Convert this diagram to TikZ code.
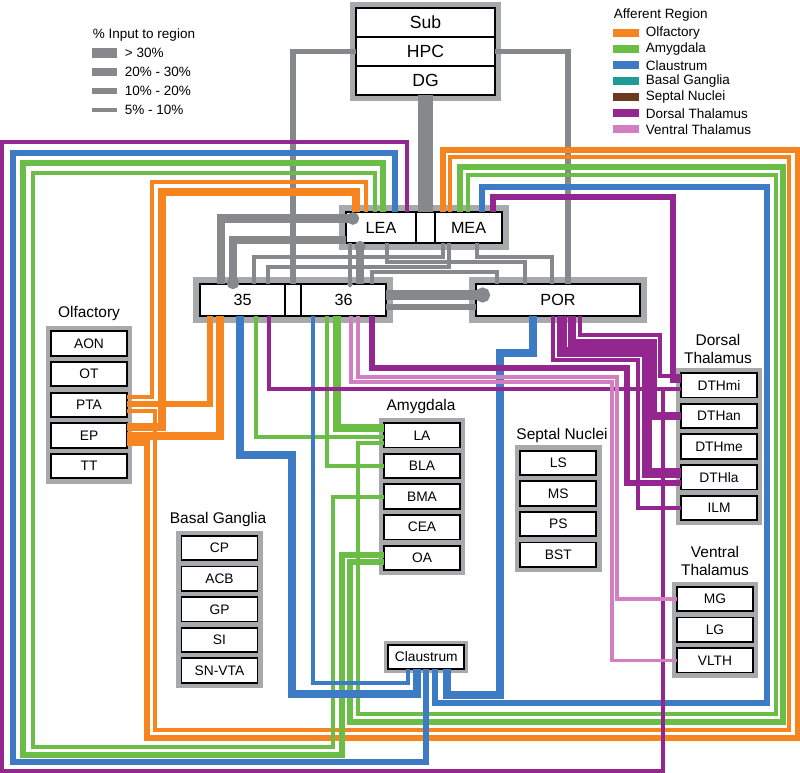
\documentclass[tikz,border=0pt]{standalone}
\usepackage{fontspec}
\setmainfont{Liberation Sans}
\usetikzlibrary{arrows.meta, positioning, fit, backgrounds, calc}
\definecolor{olfc}{HTML}{F7851F}
\definecolor{amyc}{HTML}{6ABD45}
\definecolor{clac}{HTML}{3D7BC4}
\definecolor{bgc}{HTML}{1C9C99}
\definecolor{sepc}{HTML}{6B3A1F}
\definecolor{dthc}{HTML}{93278F}
\definecolor{vthc}{HTML}{D17FC0}
\definecolor{hipc}{HTML}{86888B}
\definecolor{shadec}{HTML}{A7A9AC}
\tikzset{
    region/.style={rectangle, draw, line width=1.3pt, fill=white, minimum width=1.9cm, minimum height=0.61cm, inner sep=0pt, outer sep=0pt, font=\fontsize{9.8}{11}\selectfont},
    cortex/.style={rectangle, draw, line width=1.3pt, fill=white, minimum height=0.78cm, inner sep=0pt, outer sep=0pt, font=\fontsize{11.5}{13}\selectfont},
    hippo/.style={rectangle, draw, line width=1.3pt, fill=white, minimum width=3.475cm, minimum height=0.725cm, inner sep=0pt, outer sep=0pt, font=\fontsize{12.5}{14}\selectfont},
    shade/.style={fill=shadec, inner sep=0.13cm},
    cshade/.style={fill=shadec, inner sep=0.17cm},
    title/.style={font=\fontsize{11}{13}\selectfont, align=center},
    legtext/.style={anchor=west, font=\fontsize{9.6}{11}\selectfont},
    wa/.style={line width=2.4pt},
    wb/.style={line width=3.6pt},
    wc/.style={line width=5.2pt},
    wd/.style={line width=7pt},
    olf/.style={draw=olfc},
    amy/.style={draw=amyc},
    cla/.style={draw=clac},
    dth/.style={draw=dthc},
    vth/.style={draw=vthc},
    hip/.style={draw=hipc},
    dot/.style={-{Circle[length=0pt 1.5]}}
}
\begin{document}
\begin{tikzpicture}[x=0.025cm, y=-0.025cm, node distance=0.156cm]
    \useasboundingbox (0,0) rectangle (800,773);

    % Hippocampal formation (top)
    \node[hippo] at (425.5,22.5) (sub) {Sub};
    \node[hippo, below=0pt of sub] (hpc) {HPC};
    \node[hippo, below=0pt of hpc] (dg) {DG};

    % Entorhinal, perirhinal and postrhinal cortex
    \node[cortex, minimum width=1.75cm] at (381,227.5) (lea) {LEA};
    \node[cortex, minimum width=0.475cm, right=0pt of lea] (lmid) {};
    \node[cortex, minimum width=1.675cm, right=0pt of lmid] (mea) {MEA};
    \node[cortex, minimum width=2.125cm, minimum height=0.8cm] at (242.5,300) (a35) {35};
    \node[cortex, minimum width=0.4cm, minimum height=0.8cm, right=0pt of a35] (mid35) {};
    \node[cortex, minimum width=2.125cm, minimum height=0.8cm, right=0pt of mid35] (a36) {36};
    \node[cortex, minimum width=4.1cm, minimum height=0.8cm] at (558,300) (por) {POR};

    % Olfactory (left)
    \node[title] at (89,314) {Olfactory};
    \node[region] at (89,343.5) (aon) {AON};
    \node[region, below=of aon] (ot) {OT};
    \node[region, below=of ot] (pta) {PTA};
    \node[region, below=of pta] (ep) {EP};
    \node[region, below=of ep] (tt) {TT};

    % Basal ganglia
    \node[title] at (218,519) {Basal Ganglia};
    \node[region] at (219.5,548) (cp) {CP};
    \node[region, below=of cp] (acb) {ACB};
    \node[region, below=of acb] (gp) {GP};
    \node[region, below=of gp] (si) {SI};
    \node[region, below=of si] (snvta) {SN-VTA};

    % Amygdala
    \node[title] at (421,406) {Amygdala};
    \node[region] at (422,435.3) (la) {LA};
    \node[region, below=of la] (bla) {BLA};
    \node[region, below=of bla] (bma) {BMA};
    \node[region, below=of bma] (cea) {CEA};
    \node[region, below=of cea] (oa) {OA};

    % Septal nuclei
    \node[title] at (562,435) {Septal Nuclei};
    \node[region] at (558.3,462.8) (ls) {LS};
    \node[region, below=of ls] (ms) {MS};
    \node[region, below=of ms] (ps) {PS};
    \node[region, below=of ps] (bst) {BST};

    % Dorsal thalamus (right)
    \node[title] at (718,349) {Dorsal\\Thalamus};
    \node[region] at (719,385.3) (dthmi) {DTHmi};
    \node[region, below=of dthmi] (dthan) {DTHan};
    \node[region, below=of dthan] (dthme) {DTHme};
    \node[region, below=of dthme] (dthla) {DTHla};
    \node[region, below=of dthla] (ilm) {ILM};

    % Ventral thalamus
    \node[title] at (715,561) {Ventral\\Thalamus};
    \node[region] at (715,599) (mg) {MG};
    \node[region, below=of mg] (lg) {LG};
    \node[region, below=of lg] (vlth) {VLTH};

    % Claustrum
    \node[region, minimum height=0.6cm] at (426.3,657) (claus) {Claustrum};

    % grey frames behind the groups
    \begin{scope}[on background layer]
        \node[cshade, inner sep=0.15cm, fit=(sub)(dg)] {};
        \node[cshade, fit=(lea)(mea)] {};
        \node[cshade, fit=(a35)(a36)] {};
        \node[cshade, fit=(por)] {};
        \node[shade, fit=(aon)(tt)] {};
        \node[shade, fit=(cp)(snvta)] {};
        \node[shade, fit=(la)(oa)] {};
        \node[shade, fit=(ls)(bst)] {};
        \node[shade, fit=(dthmi)(ilm)] {};
        \node[shade, fit=(mg)(vlth)] {};
        \node[shade, inner sep=0.1cm, fit=(claus)] {};
    \end{scope}

    % Legend: line width
    \node[legtext] at (88,35) {\% Input to region};
    \draw[hip, line width=7pt] (92,53) -- (117,53);
    \draw[hip, line width=5.8pt] (92,72) -- (117,72);
    \draw[hip, line width=4.2pt] (92,91) -- (117,91);
    \draw[hip, line width=3.2pt] (92,110) -- (117,110);
    \node[legtext] at (120,53) {> 30\%};
    \node[legtext] at (120,72) {20\% - 30\%};
    \node[legtext] at (120,91) {10\% - 20\%};
    \node[legtext] at (120,110) {5\% - 10\%};

    % Legend: colours
    \node[legtext] at (609,15) {Afferent Region};
    \foreach \col/\name [count=\i] in {olfc/Olfactory, amyc/Amygdala, clac/Claustrum, bgc/Basal Ganglia, sepc/Septal Nuclei, dthc/Dorsal Thalamus, vthc/Ventral Thalamus} {
        \draw[draw=\col, line width=5.6pt] (613,{17.3+16*\i}) -- (639,{17.3+16*\i});
        \node[legtext] at (641,{17.3+16*\i}) {\name};
    }

    % Hippocampus connections
    \draw[hip, wb] (hpc.west) -| (mid35.north);
    \draw[hip, wb] (hpc.east) -| (por.north -| 568,0);
    \draw[hip, line width=10.5pt] (dg.south) -- (lmid.north);
    \draw[hip, line width=5.8pt, dot] (a35.north -| 221,0) |- ($(lea.west)+(13,-9)$);
    \draw[hip, line width=5.8pt, dot] (lea.west |- 0,240) -| ($(a35.north -| 233,0)+(0,5)$);
    \draw[hip, wc, dot] (a36.north -| 360,0) -- ($(lea.south -| 360,0)+(0,-2)$);
    \draw[hip, wa, dot] (lea.south -| 350,0) -- ($(a36.north -| 350,0)+(0,3)$);
    \draw[hip, wa] (mea.south -| 443,0) -- (443,257) -| (a35.north -| 254,0);
    \draw[hip, wa] (mea.south -| 449,0) -- (449,267) -| (a35.north -| 268,0);
    \draw[hip, wa] (lea.south -| 387,0) -- (387,262) -| (por.north -| 525,0);
    \draw[hip, wa] (mea.south -| 477,0) -- (477,257) -| (por.north -| 552,0);
    \draw[hip, wa] (a36.north -| 372,0) -- (372,272) -| (por.north -| 497,0);
    \draw[hip, line width=7pt, dot] (a36.east |- 0,295) -- ($(por.west |- 0,295)+(14,0)$);
    \draw[hip, wb] (por.west |- 0,307) -- (a36.east |- 0,307);

    % Olfactory
    \draw[olf, wa] (pta.east |- 0,397) -| (152,182) -| (lea.north -| 366,0);
    \draw[olf, wc] (ep.east |- 0,427) -| (162,192) -| (lea.north -| 356,0);
    \draw[olf, wb] (pta.east |- 0,404) -| (a35.south -| 210,0);
    \draw[olf, wc] (ep.east |- 0,436) -| (a35.south -| 220,0);
    \draw[olf, wa] (pta.east |- 0,411) -| (155,730) -| (789,157) -| (mea.north -| 450,0);
    \draw[olf, wb] (ep.east |- 0,443) -| (147,738) -| (798,150) -| (mea.north -| 443,0);

    % Amygdala
    \draw[amy, wb] (lea.north -| 383,0) |- (23,163) |- (342,755) |- (oa.west |- 0,555);
    \draw[amy, wa] (lea.north -| 375,0) |- (33,173) |- (333,747) |- (bma.west |- 0,497);
    \draw[amy, wb] (mea.north -| 460,0) |- (783,167) |- (350,722) |- (oa.west |- 0,562);
    \draw[amy, wa] (mea.north -| 468,0) |- (776,175) |- (358,714) |- (la.west |- 0,443);
    \draw[amy, wa] (a35.south -| 256,0) |- (la.west |- 0,437);
    \draw[amy, wa] (a36.south -| 327,0) |- (bla.west |- 0,466);
    \draw[amy, wc] (a36.south -| 337,0) |- (la.west |- 0,428);

    % Claustrum
    \draw[cla, wb] (lea.north -| 395,0) |- (13,153) |- (426,762) -- (claus.south -| 426,0);
    \draw[cla, wb] (mea.north -| 482,0) |- (767,187) |- (435,703) -- (claus.south -| 435,0);
    \draw[cla, wc] (a35.south -| 240,0) |- (292,455) |- (417,694) -- (claus.south -| 417,0);
    \draw[cla, wa] (a36.south -| 313,0) |- (408,683) -- (claus.south -| 408,0);
    \draw[cla, wc] (por.south -| 533,0) |- (500,353) |- (447,695) -- (claus.south -| 447,0);

    % Dorsal thalamus
    \draw[dth, wa] (lea.north -| 407,0) |- (2,142) |- (663,771) |- (dthmi.west |- 0,389);
    \draw[dth, wb] (mea.north -| 493,0) |- (673,197) |- (dthmi.west |- 0,380);
    \draw[dth, wa] (a35.south -| 269,0) |- (dthmi.west |- 0,389);
    \draw[dth, wb] (a36.south -| 372,0) |- (627,368) |- (dthla.west |- 0,483);
    \draw[dth, wa] (por.south -| 553,0) |- (638,360) |- (ilm.west);
    \draw[dth, wd] (por.south -| 562,0) |- (647,352) |- (dthla.west |- 0,473);
    \draw[dth, wc] (por.south -| 572,0) |- (653,343) |- (dthan.west);
    \draw[dth, wa] (por.south -| 580,0) |- (660,335) |- (dthmi.west |- 0,376);

    % Ventral thalamus
    \draw[vth, wa] (a36.south -| 358,0) |- (617,377) |- (mg.west);
    \draw[vth, wa] (a36.south -| 351,0) |- (612,382) |- (vlth.west);
\end{tikzpicture}
\end{document}
